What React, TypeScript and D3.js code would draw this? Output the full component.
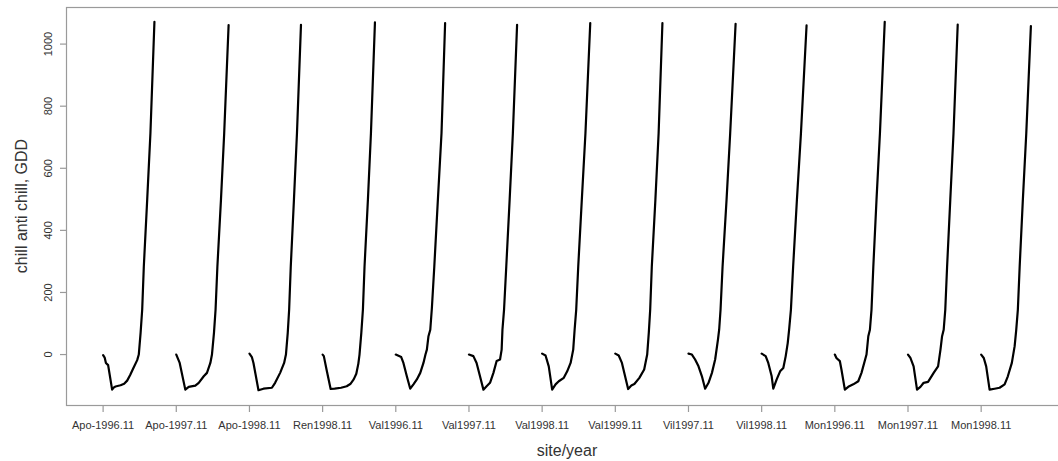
import React from "react";
import * as d3 from "d3";

// Site/season labels, one per chill season (starting 1 November).
const seasonLabels = [
  "Apo-1996.11", "Apo-1997.11", "Apo-1998.11", "Ren1998.11",
  "Val1996.11", "Val1997.11", "Val1998.11", "Val1999.11",
  "Vil1997.11", "Vil1998.11", "Mon1996.11", "Mon1997.11", "Mon1998.11",
];

// Days allotted to each season on the shared x index.
const seasonLength = 365;

// Cumulative chill / anti-chill (GDD) per season: [day since season start, value].
const apo1996: [number, number][] = [[0,-2],[8,-10],[14,-27],[25,-34],[45,-113],[55,-105],[62,-103],[87,-99],[105,-94],[120,-84],[135,-66],[150,-45],[170,-18],[178,0],[187,70],[195,145],[203,283],[220,500],[236,713],[256,1072]];
const apo1997: [number, number][] = [[0,0],[17,-27],[45,-113],[62,-104],[95,-100],[112,-91],[137,-70],[153,-59],[170,-27],[178,0],[188,70],[196,145],[205,283],[223,500],[239,713],[261,1061]];
const apo1998: [number, number][] = [[0,3],[12,-8],[20,-27],[45,-115],[70,-110],[112,-107],[128,-91],[153,-59],[173,-27],[182,0],[191,70],[198,145],[206,283],[222,500],[237,713],[257,1062]];
const ren1998: [number, number][] = [[0,0],[6,-5],[20,-50],[40,-111],[60,-110],[92,-107],[120,-102],[138,-95],[155,-80],[168,-62],[178,-30],[184,0],[193,70],[201,145],[209,283],[226,500],[241,713],[261,1070]];
const val1996: [number, number][] = [[0,0],[27,-8],[38,-27],[55,-70],[72,-110],[88,-96],[105,-80],[122,-59],[138,-27],[148,0],[155,16],[163,59],[172,80],[180,150],[192,283],[210,500],[228,713],[246,1068]];
const val1997: [number, number][] = [[0,0],[22,-5],[38,-27],[55,-70],[72,-113],[88,-102],[105,-91],[122,-59],[138,-21],[155,-16],[163,16],[167,80],[175,145],[186,283],[203,500],[219,713],[240,1062]];
const val1998: [number, number][] = [[0,3],[17,-3],[33,-38],[50,-113],[67,-96],[83,-86],[108,-75],[125,-54],[142,-27],[155,16],[162,80],[170,145],[180,283],[198,500],[216,713],[240,1068]];
const val1999: [number, number][] = [[0,3],[17,-3],[33,-27],[64,-111],[80,-100],[95,-95],[120,-75],[144,-48],[159,0],[167,70],[174,145],[182,283],[200,500],[216,713],[235,1068]];
const vil1997: [number, number][] = [[0,3],[17,0],[33,-16],[50,-38],[67,-70],[83,-110],[100,-91],[117,-59],[133,-16],[147,48],[153,80],[160,145],[170,283],[190,500],[208,713],[235,1065]];
const vil1998: [number, number][] = [[0,3],[20,-5],[33,-27],[50,-70],[58,-110],[75,-80],[92,-54],[108,-43],[120,-5],[130,37],[137,80],[146,145],[157,283],[176,500],[196,713],[224,1060]];
const mon1996: [number, number][] = [[0,0],[8,-11],[25,-21],[33,-48],[50,-113],[67,-104],[92,-96],[117,-86],[133,-59],[158,0],[167,59],[175,80],[183,145],[192,283],[208,500],[225,713],[249,1072]];
const mon1997: [number, number][] = [[0,0],[12,-11],[28,-38],[45,-113],[62,-104],[78,-91],[100,-88],[128,-59],[150,-38],[162,16],[170,59],[178,80],[186,145],[195,283],[211,500],[227,713],[248,1063]];
const mon1998: [number, number][] = [[0,0],[13,-11],[25,-38],[42,-113],[67,-110],[92,-107],[117,-96],[133,-70],[153,-27],[167,27],[175,80],[183,145],[192,283],[208,500],[225,713],[248,1058]];

const seasonCurves = [
  apo1996, apo1997, apo1998, ren1998, val1996, val1997, val1998,
  val1999, vil1997, vil1998, mon1996, mon1997, mon1998,
];

const yTicks = [0, 200, 400, 600, 800, 1000];

const W = 1058;
const H = 461;
const plot = { left: 66, right: 1068, top: 7, bottom: 405 };
const axisColor = "#9a9a9a";
const textColor = "#333";
const font = "'Liberation Sans', Arial, Helvetica, sans-serif";

// R-style 4% padding of the data range.
function padded([lo, hi]: [number, number]): [number, number] {
  const p = (hi - lo) * 0.04;
  return [lo - p, hi + p];
}

export default function App() {
  const points = seasonCurves.map((curve, i) =>
    curve.map(([d, v]) => [i * seasonLength + d, v] as [number, number])
  );
  const all = points.flat();
  const xExt = d3.extent(all, (p) => p[0]) as [number, number];
  const yExt = d3.extent(all, (p) => p[1]) as [number, number];

  const x = d3.scaleLinear().domain(padded(xExt)).range([plot.left, plot.right]);
  const y = d3.scaleLinear().domain(padded(yExt)).range([plot.bottom, plot.top]);

  const line = d3
    .line<[number, number]>()
    .x((p) => x(p[0]))
    .y((p) => y(p[1]));

  const xTicks = seasonLabels.map((label, i) => ({ label, value: i * seasonLength }));

  return (
    <svg
      width={W}
      height={H}
      style={{ position: "absolute", left: 0, top: 0, background: "#fff" }}
      fontFamily={font}
    >
      {/* plot frame */}
      <rect
        x={plot.left + 0.5}
        y={plot.top + 0.5}
        width={plot.right - plot.left}
        height={plot.bottom - plot.top}
        fill="none"
        stroke={axisColor}
        strokeWidth={1.2}
      />

      {/* y axis */}
      {yTicks.map((t) => (
        <g key={t}>
          <line
            x1={plot.left + 0.5}
            x2={plot.left - 6}
            y1={y(t)}
            y2={y(t)}
            stroke={axisColor}
            strokeWidth={1.2}
          />
          <text
            transform={`translate(52,${y(t)}) rotate(-90)`}
            textAnchor="middle"
            fontSize={11}
            fill={textColor}
          >
            {t}
          </text>
        </g>
      ))}

      {/* x axis */}
      {xTicks.map((t) => (
        <g key={t.label}>
          <line
            x1={x(t.value)}
            x2={x(t.value)}
            y1={plot.bottom + 0.5}
            y2={plot.bottom + 7}
            stroke={axisColor}
            strokeWidth={1.2}
          />
          <text
            x={x(t.value)}
            y={429}
            textAnchor="middle"
            fontSize={11}
            fill={textColor}
          >
            {t.label}
          </text>
        </g>
      ))}

      {/* axis titles */}
      <text
        x={(plot.left + plot.right) / 2}
        y={456}
        textAnchor="middle"
        fontSize={16}
        fill={textColor}
      >
        site/year
      </text>
      <text
        transform={`translate(27,${(plot.top + plot.bottom) / 2}) rotate(-90)`}
        textAnchor="middle"
        fontSize={16}
        fill={textColor}
      >
        chill anti chill, GDD
      </text>

      {/* one line per season */}
      {points.map((pts, i) => (
        <path
          key={seasonLabels[i]}
          d={line(pts) ?? ""}
          fill="none"
          stroke="#000"
          strokeWidth={2.2}
          strokeLinejoin="round"
          strokeLinecap="round"
        />
      ))}
    </svg>
  );
}
